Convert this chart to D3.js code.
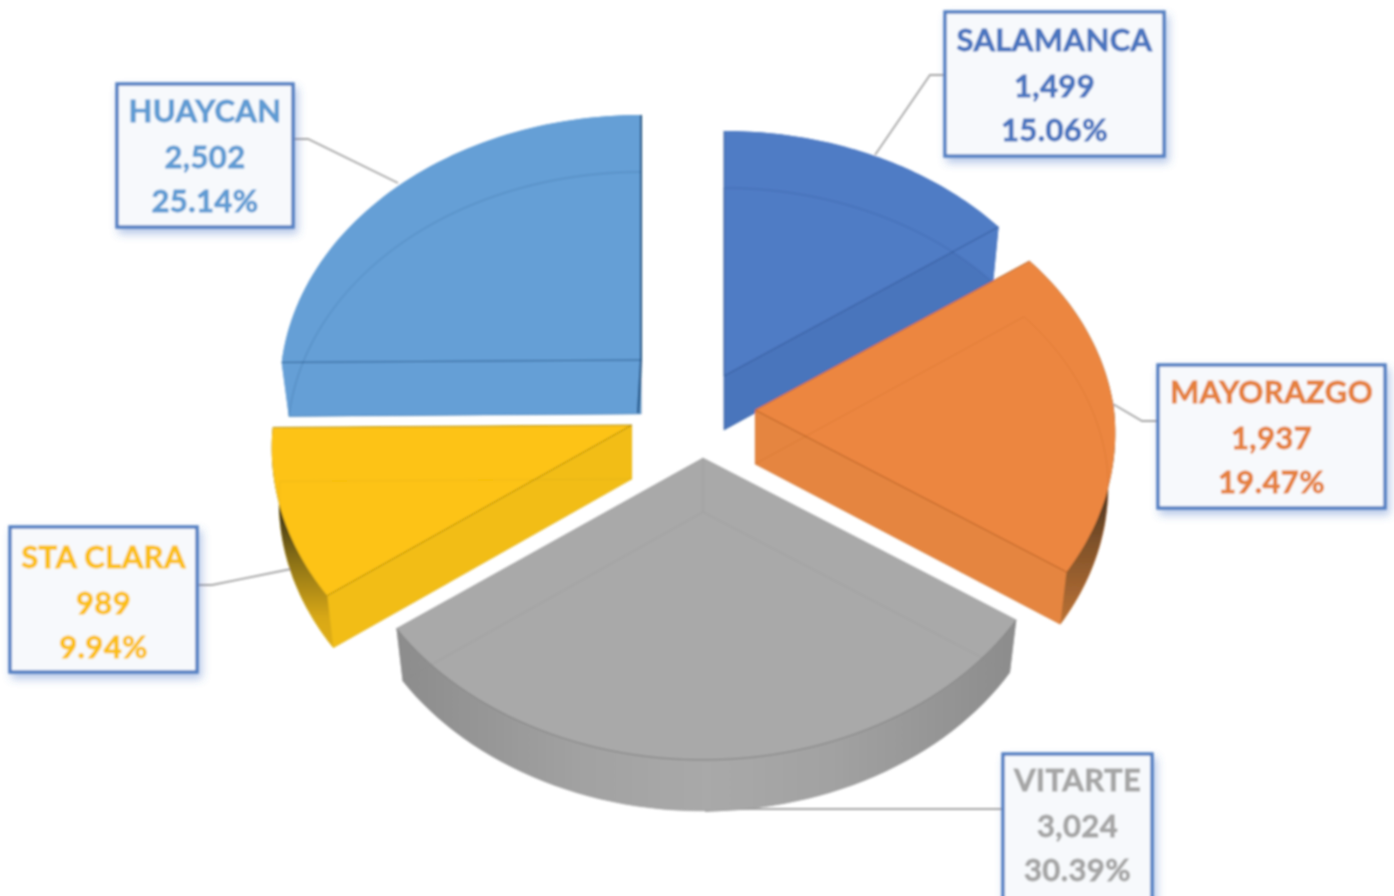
<!DOCTYPE html>
<html>
<head>
<meta charset="utf-8">
<script src="https://cdn.jsdelivr.net/npm/d3@7"></script>
<style>
  html, body { margin: 0; padding: 0; background: #fff; overflow: hidden; }
  svg { display: block; }
  text { font-family: Lato, "Open Sans", sans-serif; font-weight: 700; text-anchor: middle; letter-spacing: 0.4px; }
</style>
</head>
<body>
<svg id="chart" width="1394" height="896"></svg>
<script>
// chart values, clockwise from 12 o'clock
const categories = ["SALAMANCA", "MAYORAZGO", "VITARTE", "STA CLARA", "HUAYCAN"];
const amounts = [1499, 1937, 3024, 989, 2502];
const percents = ["15.06%", "19.47%", "30.39%", "9.94%", "25.14%"];

const colors = ["#4f7bc5", "#ec8641", "#a9a9a9", "#fdc313", "#659fd6"];
const sideColors = ["#4a74bc", "#e5853f", "#a9a9a9", "#f2bd17", "#659fd6"];
const edgeColors = ["#2c5290", "#a8551a", "#8c8c8c", "#9a7a08", "#1f4f80"];
const hiddenOpacity = [0.35, 0.2, 0.3, 0.12, 0.3];
const textColors = ["#4a75bf", "#e5803c", "#a6a6a6", "#fbbf14", "#5f9bd3"];

// top corner of each exploded slice, and how much the front of it narrows
const apexX = [724, 755, 703, 632, 641];
const apexY = [376, 410, 458, 425, 360];
const narrowing = [0, 0.02, 0.01, 0.02, 0];

// label boxes [x, y, w, h], first text row and leader lines
const boxes = [
  [945, 12, 219, 144],
  [1158, 365, 227, 143],
  [1003, 754, 149, 146],
  [10, 527, 187, 145],
  [117, 84, 176, 143]
];
const firstRow = [51, 403, 791, 568, 122];
const rowOffset = [0, 46, 90];
const leaders = [
  [[944, 75], [930, 75], [875, 155]],
  [[1157, 421], [1142, 421], [1113, 404]],
  [[1002, 809], [740, 809], [705, 811]],
  [[198, 585], [212, 585], [291, 569]],
  [[294, 139], [308, 139], [398, 183]]
];

const rx = 359, ry = 270.5, persp = 0.104;

const svg = d3.select("#chart");
const defs = svg.append("defs");

const soft = defs.append("filter").attr("id", "soft")
  .attr("x", 0).attr("y", 0).attr("width", 1394).attr("height", 896)
  .attr("filterUnits", "userSpaceOnUse");
soft.append("feGaussianBlur").attr("stdDeviation", 0.8);

const shadow = defs.append("filter").attr("id", "boxshadow")
  .attr("x", "-10%").attr("y", "-10%").attr("width", "125%").attr("height", "125%");
shadow.append("feDropShadow")
  .attr("dx", 3).attr("dy", 5).attr("stdDeviation", 4)
  .attr("flood-color", "#4472c4").attr("flood-opacity", 0.4);

function addGradient(id, x1, y1, x2, y2, stops) {
  const g = defs.append("linearGradient").attr("id", id)
    .attr("gradientUnits", "userSpaceOnUse")
    .attr("x1", x1).attr("y1", y1).attr("x2", x2).attr("y2", y2);
  stops.forEach((s) => g.append("stop").attr("offset", s[0]).attr("stop-color", s[1]));
}
addGradient("wall0", 0, 0, 0, 1, [[0, colors[0]], [1, colors[0]]]);
addGradient("wall1", 0, 480, 0, 620, [[0, "#3f2f20"], [0.45, "#80522a"], [1, "#b87034"]]);
addGradient("wall2", 397, 0, 1017, 0, [[0, "#8c8c8c"], [0.3, "#a2a2a2"], [0.5, "#a9a9a9"], [0.7, "#a2a2a2"], [1, "#8c8c8c"]]);
addGradient("wall3", 0, 510, 0, 645, [[0, "#3d3412"], [0.4, "#8f7414"], [0.8, "#d8a812"], [1, "#e0ae12"]]);
addGradient("wall4", 0, 0, 0, 1, [[0, colors[4]], [1, colors[4]]]);

// point on a slice: a = angle from 12 o'clock, r = 0..1, low = bottom face
function project(i, a, r, low) {
  const u = r * Math.sin(a);
  const v = r * Math.cos(a);
  const d = 1 + persp * v;
  let x = (rx * u) / d;
  let y = (-ry * v) / d;
  if (v < 0) x = x * (1 + narrowing[i] * v);
  if (low) {
    x = x * 0.98;
    y = y + 54 + 3 * v;
  }
  return [apexX[i] + x, apexY[i] + y];
}

function arcPoints(i, d, low) {
  const n = 60;
  return d3.range(n + 1).map((k) => {
    const a = d.startAngle + ((d.endAngle - d.startAngle) * k) / n;
    return project(i, a, 1, low);
  });
}

const line = d3.line();
const closed = (pts) => line(pts) + "Z";

const pie = d3.pie().sort(null).value((d) => d);
const slices = pie(amounts);

const root = svg.append("g").attr("filter", "url(#soft)");

// leader lines
root.append("g").selectAll("path").data(leaders).join("path")
  .attr("d", (d) => line(d))
  .attr("fill", "none")
  .attr("stroke", "#a6a6a6")
  .attr("stroke-width", 1.8);

// back to front
const order = [0, 1, 4, 3, 2];
order.forEach((i) => {
  const d = slices[i];
  const g = root.append("g").attr("class", "slice");
  const topArc = arcPoints(i, d, false);
  const lowArc = arcPoints(i, d, true);
  const topC = project(i, 0, 0, false);
  const lowC = project(i, 0, 0, true);
  const topS = topArc[0], topE = topArc[topArc.length - 1];
  const lowS = lowArc[0], lowE = lowArc[lowArc.length - 1];

  // bottom face and the two cut walls
  g.append("path").attr("d", closed([lowC].concat(lowArc))).attr("fill", sideColors[i]);
  g.append("path").attr("d", closed([topC, topS, lowS, lowC])).attr("fill", sideColors[i]);
  g.append("path").attr("d", closed([topC, topE, lowE, lowC])).attr("fill", sideColors[i]);
  // outer wall
  g.append("path")
    .attr("d", closed(topArc.concat(lowArc.slice().reverse())))
    .attr("fill", "url(#wall" + i + ")");
  // top face
  g.append("path").attr("d", closed([topC].concat(topArc))).attr("fill", colors[i]);

  // hidden edges showing through the glassy slice
  g.append("path")
    .attr("d", line([lowS, lowC, lowE]) + line(lowArc) + line([topC, lowC]))
    .attr("fill", "none")
    .attr("stroke", edgeColors[i])
    .attr("stroke-opacity", hiddenOpacity[i])
    .attr("stroke-width", 1);
  // visible edges of the top face
  g.append("path")
    .attr("d", line([topS, topC, topE]))
    .attr("fill", "none")
    .attr("stroke", edgeColors[i])
    .attr("stroke-opacity", i === 2 ? 0.3 : 0.8)
    .attr("stroke-width", 1);
  // outer edge where the wall shows under the top face
  if (i === 2) {
    g.append("path").attr("d", line(topArc)).attr("fill", "none")
      .attr("stroke", "#7f7f7f").attr("stroke-width", 1);
  }
});

// blue slice: the cut wall is seen almost edge on
root.append("path")
  .attr("d", line([project(4, 0, 1, false), project(4, 0, 0, false), [638, 413]]))
  .attr("fill", "none")
  .attr("stroke", "#1f4f80")
  .attr("stroke-width", 2);

// labels
const labels = root.append("g").selectAll("g").data(categories).join("g");

labels.append("rect")
  .attr("x", (d, i) => boxes[i][0])
  .attr("y", (d, i) => boxes[i][1])
  .attr("width", (d, i) => boxes[i][2])
  .attr("height", (d, i) => boxes[i][3])
  .attr("fill", "#f7f9fc")
  .attr("stroke", "#5580c2")
  .attr("stroke-width", 3.5)
  .attr("filter", "url(#boxshadow)");

const fmt = d3.format(",");
labels.each(function (name, i) {
  const cx = boxes[i][0] + boxes[i][2] / 2;
  const rows = [name, fmt(amounts[i]), percents[i]];
  d3.select(this).selectAll("text").data(rows).join("text")
    .attr("x", cx)
    .attr("y", (t, k) => firstRow[i] + rowOffset[k])
    .attr("font-size", 31)
    .attr("fill", textColors[i])
    .attr("stroke", textColors[i])
    .attr("stroke-width", 0.8)
    .text((t) => t);
});
</script>
</body>
</html>
